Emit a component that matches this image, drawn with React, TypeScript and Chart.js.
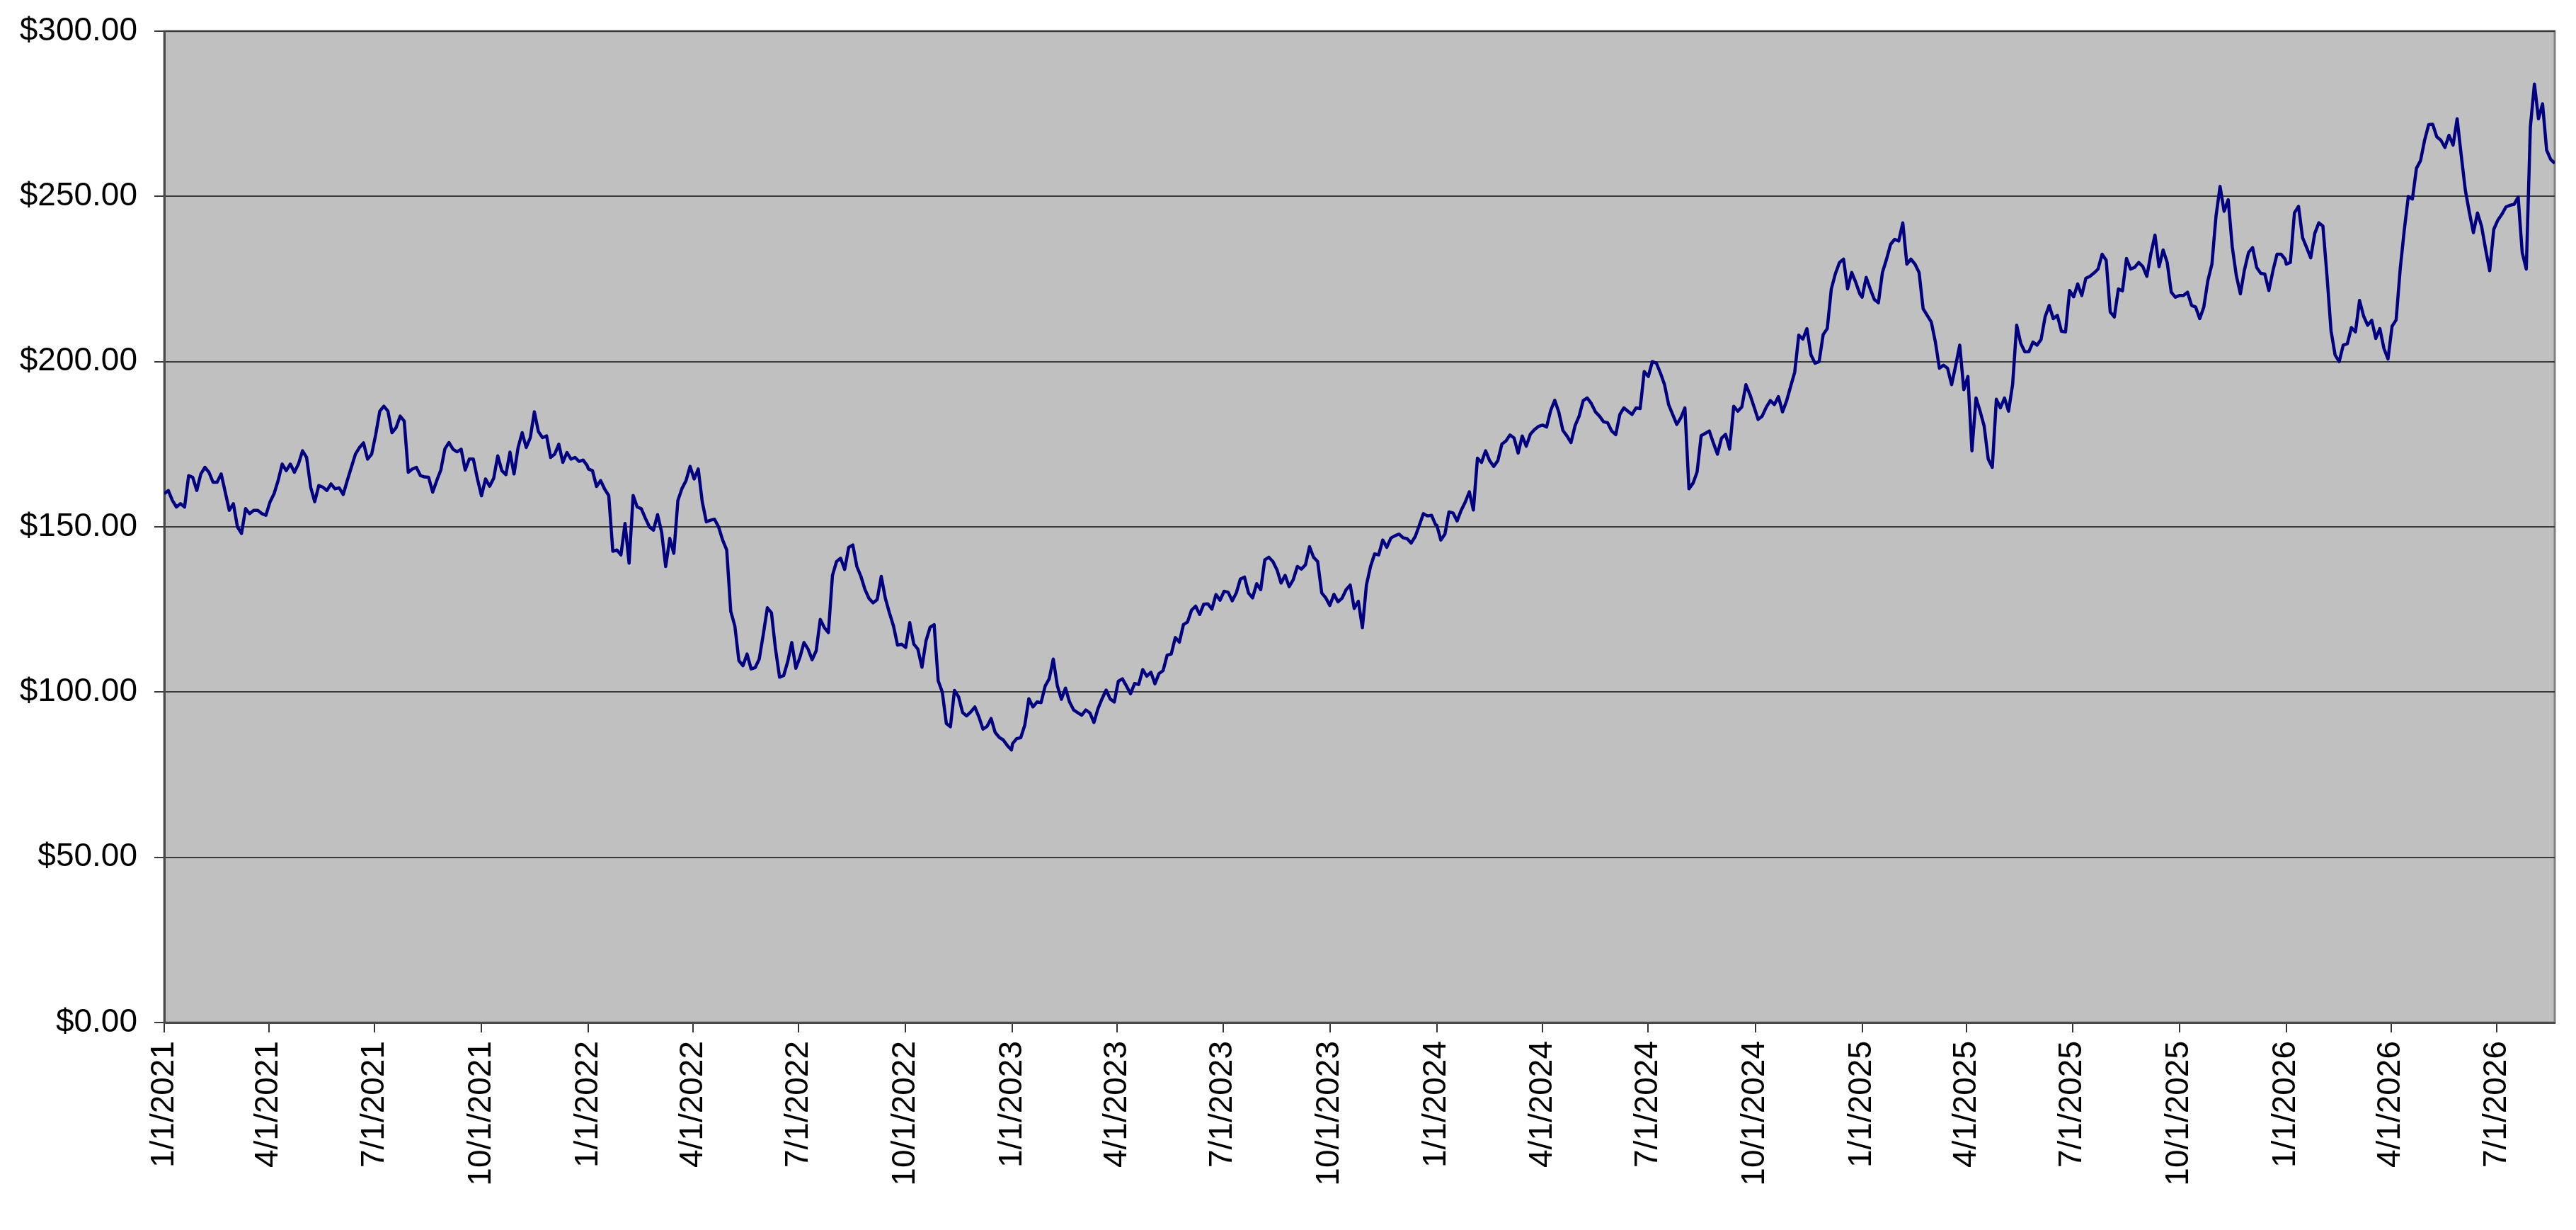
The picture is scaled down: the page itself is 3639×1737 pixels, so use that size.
import React, { useEffect, useRef } from "react";
import { Chart, registerables } from "chart.js";

Chart.register(...registerables);

// Sampling interval of the series (days between consecutive values)
const STEP_DAYS = 3.5;

// Prices, sampled twice a week from 1 January of each year
const prices2021 = [
  160, 161, 158, 156, 157, 156, 165.5, 165, 161, 166,
  168, 166.5, 163.5, 163.5, 166, 160.5, 155, 157, 150, 148,
  155.5, 154, 155, 155, 154, 153.5, 157.5, 160, 164, 169,
  167, 169, 166.5, 169, 173, 171, 162, 157.6, 162.5, 162,
  161, 163, 161.5, 161.8, 159.8, 164, 168, 172, 174, 175.4,
  170.5, 172, 178, 185, 186.5, 185, 178.5, 180, 183.5, 182,
  166.5, 167.5, 168, 165.5, 165.1, 165, 160.5, 164, 167.2, 173.6,
  175.5, 173.5, 172.7, 173.5, 167.2, 170.5, 170.5, 164.5, 159.4, 164.5,
  162.3, 164.7, 171.5, 167, 165.8, 172.6, 166, 174, 178.5, 174,
  177, 184.8, 178.8, 177, 177.5, 171, 172, 175, 169.5, 172.5,
  170.5, 171, 169.8, 170.2, 168.5,
];

const prices2022 = [
  167.5, 167, 162.2, 164, 161.4, 159.5, 142.6, 143, 141.5, 151,
  139, 159.5, 156, 155.5, 152.6, 150, 149, 153.7, 148.4, 138,
  146.5, 142, 158, 161.6, 164, 168.3, 164.5, 167.5, 157.5, 151.5,
  152, 152.3, 150, 146, 143, 124.4, 120, 109.5, 108, 111.5,
  107, 107.4, 110, 117.5, 125.5, 124, 113, 104.5, 105, 109.2,
  115, 107.2, 110.5, 115, 113, 109.8, 112.5, 122, 119.5, 118,
  135.3, 139.5, 140.5, 137.1, 143.8, 144.5, 138, 135, 131, 128.3,
  127, 128, 135, 128.4, 124, 120, 114.2, 114.5, 113.5, 121,
  114.5, 113, 107.5, 115.5, 119.6, 120.4, 103.4, 100, 90.5, 89.5,
  100.5, 98.6, 93.8, 92.8, 94, 95.5, 92.5, 88.8, 89.6, 92,
  87.8, 86.3, 85.5, 83.8, 82.5,
];

const prices2023 = [
  84.4, 85.9, 86.2, 90, 98, 95.5, 97, 96.8, 101.8, 104,
  110, 101.9, 97.8, 101.2, 97, 94.6, 93.8, 93, 94.6, 93.7,
  90.8, 95, 98, 100.6, 97.9, 97, 103.3, 104, 101.8, 99.5,
  102.6, 102.3, 106.8, 104.8, 106, 102.5, 105.6, 106.5, 111.2, 111.5,
  116.5, 115.1, 120.4, 121.2, 124.8, 126, 123.5, 126.6, 126.7, 125.1,
  129.5, 127.8, 130.5, 130.2, 127.6, 130, 134.2, 134.8, 130, 128.5,
  132.8, 131, 140, 140.8, 139.5, 137, 133, 135.3, 131.9, 134,
  138, 137.2, 138.5, 144, 140.8, 139.5, 130, 128.5, 126.2, 129.6,
  127.3, 128.4, 131, 132.4, 125.3, 127.5, 119.5, 132.5, 138, 141.8,
  141.5, 146, 143.8, 146.6, 147.3, 147.8, 146.7, 146.4, 145.1, 147.1,
  150.5, 154, 153.3, 153.5, 150.6,
];

const prices2024 = [
  150.5, 146, 147.8, 154.5, 154.2, 151.8, 155, 157.5, 160.6, 155.1,
  170.8, 169.5, 173, 170, 168.3, 170, 175, 176, 177.8, 176.9,
  172.3, 177.5, 174.4, 178, 179.4, 180.4, 180.8, 180.2, 185.2, 188.3,
  184.7, 179.2, 177.5, 175.5, 180.6, 183.5, 188.2, 189, 187.3, 184.8,
  183.5, 181.8, 181.5, 179, 177.9, 184, 186, 185, 184, 186,
  185.8, 197, 195.5, 200, 199.5, 196.5, 193, 187, 184, 181,
  183, 186, 161.5, 163.2, 166.6, 177.6, 178.3, 179, 175.4, 172,
  176.8, 178, 173.5, 186.5, 185, 186.3, 193, 190, 186.3, 182.5,
  183.5, 186.2, 188.2, 187, 189.4, 184.8, 188.1, 192.5, 196.8, 208,
  206.8, 210, 202, 199.5, 200, 208.2, 210, 222, 226.6, 230,
  231, 222, 227, 224, 220.5,
];

const prices2025 = [
  219.5, 225.5, 222, 218.8, 217.8, 227, 231, 235.5, 237, 236.5,
  242, 229.5, 231, 229.5, 227, 216, 214, 212, 206, 198,
  198.9, 198, 193, 198.8, 205, 191.5, 195.5, 173, 189, 185,
  180.5, 170.5, 168, 188.6, 186, 189, 185, 193.1, 211, 205.5,
  203, 203, 205.9, 205, 206.7, 213.6, 217, 213, 214, 209.2,
  209, 221.5, 219.6, 223.5, 220, 225.2, 225.8, 226.8, 228, 232.5,
  230.7, 215, 213.5, 222, 221.4, 231.2, 228, 228.5, 230, 228.8,
  225.8, 232.7, 238.3, 228.7, 233.8, 230, 221, 219.5, 220, 220,
  221, 217, 216.5, 213, 216.5, 224.5, 229.5, 244, 253, 245.5,
  249, 234.7, 226, 220.5, 227.8, 233, 234.5, 228.5, 226.7, 226.5,
  221.5, 227.5, 232.5, 232.5, 231,
];

const prices2026 = [
  229.5, 230, 245, 247, 237.5, 234.5, 231.4, 238.8, 242, 241,
  226, 209.3, 202, 200, 205, 205.4, 210.3, 209, 218.5, 213.8,
  211, 212.5, 207, 210, 204, 200.8, 210.7, 212.6, 228, 239.8,
  250, 249.2, 258.5, 260.8, 267, 271.7, 271.8, 268, 267, 264.8,
  268.5, 265.5, 273.5, 262.5, 252, 245.2, 239, 245, 241, 234,
  227.5, 240, 242.8, 244.6, 246.8, 247.3, 247.6, 249.8, 233, 228,
  271, 284, 273.5, 278, 264, 261.2, 260,
];

const seriesYears = [2021, 2022, 2023, 2024, 2025, 2026];
const seriesValues = [prices2021, prices2022, prices2023, prices2024, prices2025, prices2026];

// Date-axis tick labels (quarter starts)
const xTickLabels = [
  "1/1/2021", "4/1/2021", "7/1/2021", "10/1/2021",
  "1/1/2022", "4/1/2022", "7/1/2022", "10/1/2022",
  "1/1/2023", "4/1/2023", "7/1/2023", "10/1/2023",
  "1/1/2024", "4/1/2024", "7/1/2024", "10/1/2024",
  "1/1/2025", "4/1/2025", "7/1/2025", "10/1/2025",
  "1/1/2026", "4/1/2026", "7/1/2026",
];

const Y_MIN = 0;
const Y_MAX = 300;
const Y_STEP = 50;

const ORIGIN = Date.UTC(2021, 0, 1);
const MS_DAY = 86400000;
const dayOf = (y: number, m: number, d: number) => (Date.UTC(y, m - 1, d) - ORIGIN) / MS_DAY;
const parseLabel = (s: string) => {
  const [m, d, y] = s.split("/").map(Number);
  return dayOf(y, m, d);
};
const xTickValues = xTickLabels.map(parseLabel);

const points = seriesYears.flatMap((yr, i) =>
  seriesValues[i].map((v, k) => ({ x: dayOf(yr, 1, 1) + k * STEP_DAYS, y: v }))
);

const W = 3639;
const H = 1737;
const FONT = { family: "'Liberation Sans', Arial, sans-serif", size: 46 };

const plotFrame = {
  id: "plotFrame",
  beforeDraw(chart: any) {
    const { ctx, chartArea: a } = chart;
    ctx.save();
    ctx.fillStyle = "#ffffff";
    ctx.fillRect(0, 0, chart.width, chart.height);
    ctx.fillStyle = "#c0c0c0";
    ctx.fillRect(a.left, a.top, a.right - a.left, a.bottom - a.top);
    ctx.strokeStyle = "#808080";
    ctx.lineWidth = 3;
    ctx.strokeRect(a.left, a.top, a.right - a.left, a.bottom - a.top);
    ctx.restore();
  },
};

export default function App() {
  const ref = useRef<HTMLCanvasElement | null>(null);

  useEffect(() => {
    document.body.style.margin = "0";
    if (!ref.current) return;
    const chart = new Chart(ref.current, {
      type: "line",
      data: {
        datasets: [
          {
            data: points,
            borderColor: "#000080",
            borderWidth: 4.5,
            pointRadius: 0,
            tension: 0,
            borderJoinStyle: "round",
            fill: false,
          },
        ],
      },
      options: {
        animation: false,
        responsive: false,
        devicePixelRatio: 1,
        parsing: false,
        normalized: true,
        layout: { padding: { top: 44, right: 30, left: 0, bottom: 0 } },
        plugins: {
          legend: { display: false },
          tooltip: { enabled: false },
          title: { display: false },
        },
        scales: {
          x: {
            type: "linear",
            min: 0,
            max: points[points.length - 1].x,
            offset: false,
            afterBuildTicks: (scale: any) => {
              scale.ticks = xTickValues.map((v) => ({ value: v }));
            },
            afterFit: (scale: any) => {
              scale.height = H - 1444;
              scale.paddingLeft = 0;
              scale.paddingRight = 0;
            },
            grid: {
              drawOnChartArea: false,
              drawTicks: true,
              tickLength: 14,
              color: "#333333",
              lineWidth: 2,
            },
            border: { display: true, color: "#4a4a4a", width: 3 },
            ticks: {
              autoSkip: false,
              maxRotation: 90,
              minRotation: 90,
              padding: 12,
              color: "#000000",
              font: FONT,
              callback: (value: any) => {
                const i = xTickValues.indexOf(Number(value));
                return i >= 0 ? xTickLabels[i] : "";
              },
            },
          },
          y: {
            type: "linear",
            min: Y_MIN,
            max: Y_MAX,
            afterFit: (scale: any) => {
              scale.width = 232;
              scale.paddingTop = 0;
              scale.paddingBottom = 0;
            },
            grid: {
              drawOnChartArea: true,
              drawTicks: true,
              tickLength: 14,
              color: "#3a3a3a",
              lineWidth: 2,
            },
            border: { display: true, color: "#4a4a4a", width: 3 },
            ticks: {
              stepSize: Y_STEP,
              padding: 24,
              color: "#000000",
              font: FONT,
              callback: (value: any) => "$" + Number(value).toFixed(2),
            },
          },
        },
      },
      plugins: [plotFrame],
    });
    return () => chart.destroy();
  }, []);

  return (
    <div style={{ width: W, height: H }}>
      <canvas ref={ref} width={W} height={H} style={{ display: "block", width: W, height: H }} />
    </div>
  );
}
